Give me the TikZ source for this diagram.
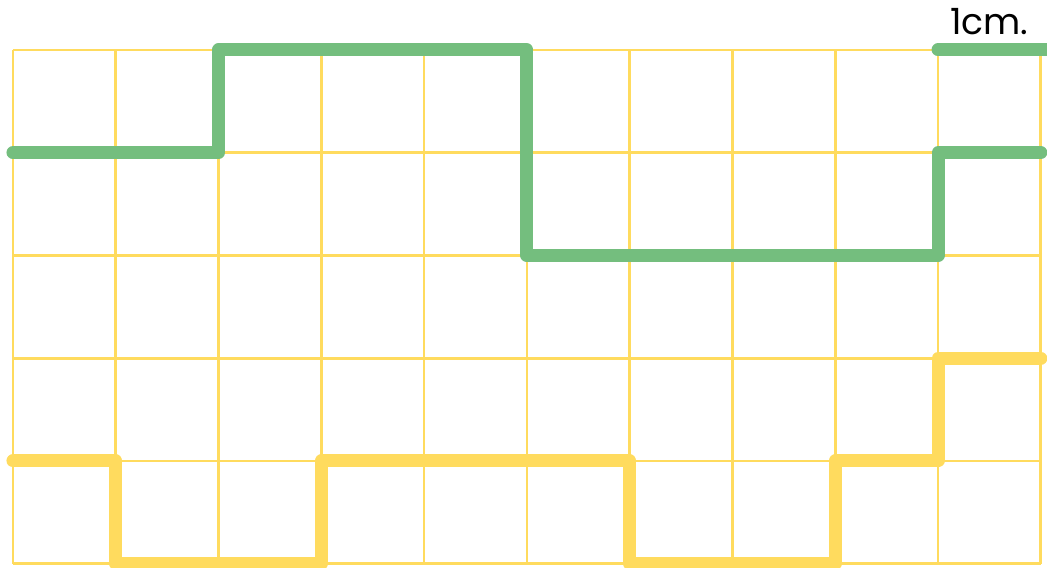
\documentclass[tikz,border=0pt]{standalone}
\usepackage{fontspec}
\setmainfont{Poppins}
\definecolor{gridyellow}{HTML}{FFDB5E}
\definecolor{wavegreen}{HTML}{74BE7E}

\begin{document}
\begin{tikzpicture}[gridline/.style={gridyellow,line width=0.75pt},
  wave/.style={line width=3.6pt,line cap=round,line join=round}]
\useasboundingbox (-0.126,-0.04) rectangle (10.06,5.485);
\draw[gridline] (0,0) grid (10,5);
% upper signal
\draw[wave,wavegreen] (0,4) -- (2,4) -- (2,5) -- (5,5) -- (5,3) -- (9,3) -- (9,4) -- (10,4);
% lower signal
\draw[wave,gridyellow] (0,1) -- (1,1) -- (1,0) -- (3,0) -- (3,1) -- (6,1) -- (6,0) -- (8,0) -- (8,1) -- (9,1) -- (9,2) -- (10,2);
% scale
\draw[wave,wavegreen] (9,5) -- (10.2,5);
\node[font=\fontsize{10}{12}\selectfont] (unit) at (9.5,5.27) {1cm.};
\end{tikzpicture}
\end{document}
